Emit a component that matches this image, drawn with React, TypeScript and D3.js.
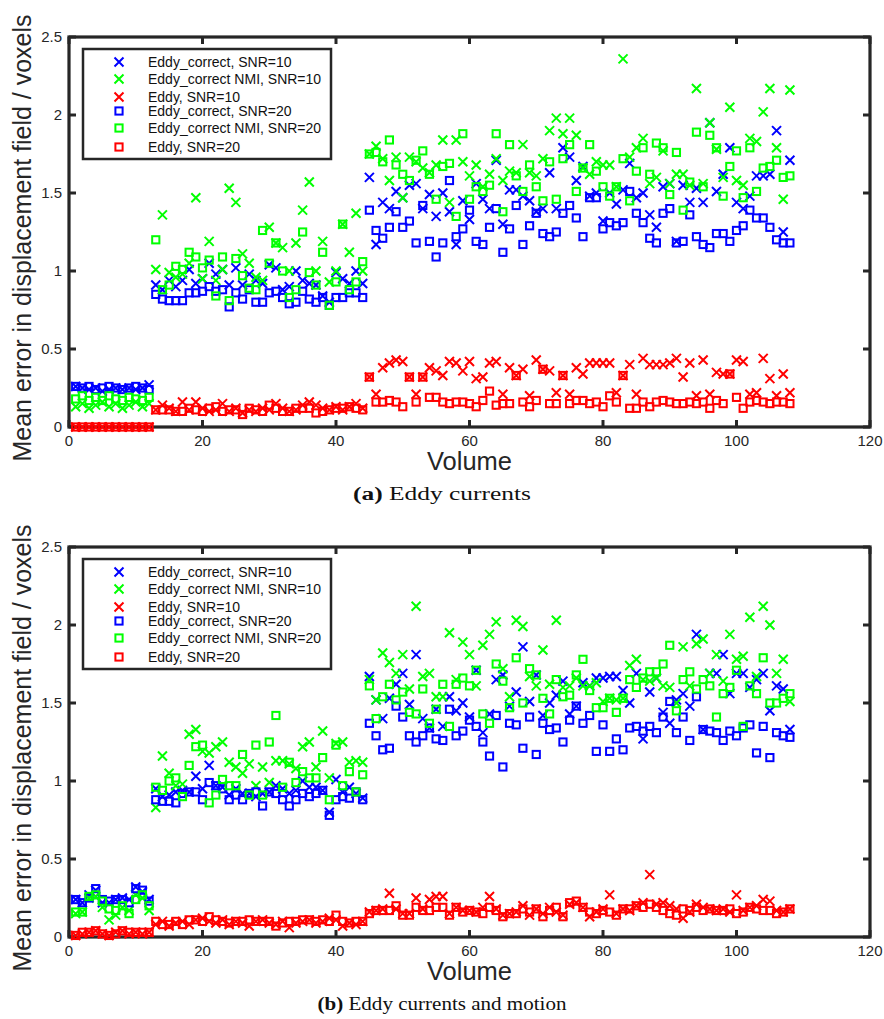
import * as d3 from 'd3'
import React from 'react'

// x positions of the points
const volumes = d3.range(1, 109)
const xTicks = [0, 20, 40, 60, 80, 100, 120]
const yTicks = [0, 0.5, 1, 1.5, 2, 2.5]

const legendLabels = [
  'Eddy_correct, SNR=10',
  'Eddy_correct NMI, SNR=10',
  'Eddy, SNR=10',
  'Eddy_correct, SNR=20',
  'Eddy_correct NMI, SNR=20',
  'Eddy, SNR=20',
]
const seriesColors = ['#0000ff', '#00ff00', '#ff0000', '#0000ff', '#00ff00', '#ff0000']
const seriesMarkers = ['x', 'x', 'x', 'square', 'square', 'square']

// (a) Eddy currents
const aCorrect10 = [
  0.26, 0.25, 0.24, 0.25, 0.23, 0.24, 0.25, 0.24, 0.25, 0.24, 0.25, 0.27,
  0.91, 0.88, 0.94, 0.90, 0.94, 1.01, 0.92, 0.95, 1.05, 0.98, 1.01, 0.91, 1.02, 0.91, 0.98, 0.94, 0.92, 1.04, 1.02, 0.88, 0.90, 1.00, 0.94, 0.92, 0.91, 0.84, 0.80, 0.99, 0.95, 0.92, 1.00, 0.92,
  1.60, 1.17, 1.44, 1.40, 1.51, 1.47, 1.55, 1.56, 1.40, 1.49, 1.35, 1.50, 1.38, 1.17, 1.45, 1.33, 1.56, 1.46, 1.40, 1.71, 1.30, 1.52, 1.52, 1.48, 1.45, 1.38, 1.40, 1.63, 1.40, 1.79, 1.73, 1.58, 1.67, 1.48, 1.50, 1.32,
  1.50, 1.43, 1.52, 1.69, 1.47, 1.50, 1.36, 1.28, 1.54, 1.56, 1.19, 1.55, 1.44, 1.53, 1.44, 1.95, 1.51, 1.62, 1.79, 1.44, 1.40, 1.48, 1.61, 1.61, 1.62, 1.90, 1.25, 1.71,
]
const aNmi10 = [
  0.13, 0.15, 0.12, 0.14, 0.16, 0.13, 0.15, 0.12, 0.14, 0.16, 0.13, 0.15,
  1.01, 1.36, 0.99, 0.96, 0.98, 1.05, 1.47, 0.95, 1.19, 0.94, 1.01, 1.53, 1.44, 1.11, 1.05, 0.96, 0.94, 1.28, 1.18, 1.15, 1.00, 1.18, 1.39, 1.57, 1.00, 1.19, 0.93, 1.00, 1.30, 1.12, 1.37, 1.00,
  1.75, 1.80, 1.72, 1.58, 1.73, 1.47, 1.73, 1.70, 1.66, 1.63, 1.68, 1.84, 1.44, 1.84, 1.70, 1.61, 1.68, 1.54, 1.62, 1.72, 1.58, 1.64, 1.63, 1.81, 1.63, 1.61, 1.72, 1.90, 1.98, 1.88, 1.98, 1.87, 1.66, 1.62, 1.70, 1.68,
  1.68, 1.54, 2.36, 1.73, 1.79, 1.85, 1.56, 1.60, 1.77, 1.56, 1.62, 1.62, 1.55, 2.17, 1.56, 1.95, 1.78, 1.60, 2.05, 1.58, 1.55, 1.85, 1.83, 2.02, 2.17, 1.79, 1.46, 2.16,
]
const aEddy10 = [
  0, 0, 0, 0, 0, 0, 0, 0, 0, 0, 0, 0,
  0.11, 0.14, 0.12, 0.10, 0.16, 0.11, 0.16, 0.12, 0.10, 0.11, 0.15, 0.10, 0.12, 0.09, 0.11, 0.10, 0.12, 0.11, 0.15, 0.12, 0.10, 0.11, 0.14, 0.16, 0.14, 0.12, 0.11, 0.13, 0.11, 0.13, 0.15, 0.12,
  0.32, 0.21, 0.38, 0.41, 0.43, 0.42, 0.32, 0.21, 0.32, 0.38, 0.36, 0.33, 0.42, 0.41, 0.36, 0.42, 0.31, 0.32, 0.41, 0.42, 0.21, 0.38, 0.33, 0.37, 0.20, 0.43, 0.37, 0.36, 0.22, 0.33, 0.21, 0.38, 0.34, 0.41, 0.41, 0.41,
  0.41, 0.22, 0.33, 0.40, 0.21, 0.44, 0.40, 0.40, 0.40, 0.41, 0.44, 0.32, 0.41, 0.20, 0.43, 0.21, 0.35, 0.34, 0.34, 0.43, 0.42, 0.21, 0.22, 0.44, 0.31, 0.20, 0.34, 0.22,
]
const aCorrect20 = [
  0.26, 0.25, 0.26, 0.24, 0.25, 0.26, 0.25, 0.24, 0.25, 0.26, 0.25, 0.24,
  0.85, 0.82, 0.81, 0.81, 0.81, 0.86, 0.86, 0.87, 0.90, 0.87, 0.88, 0.77, 0.86, 0.82, 0.88, 0.80, 0.80, 0.86, 0.87, 0.83, 0.79, 0.80, 0.87, 0.82, 0.80, 0.83, 0.78, 0.83, 0.83, 0.86, 0.86, 0.83,
  1.39, 1.26, 1.21, 1.28, 1.38, 1.28, 1.32, 1.18, 1.42, 1.19, 1.09, 1.18, 1.58, 1.22, 1.27, 1.39, 1.19, 1.17, 1.28, 1.40, 1.12, 1.27, 1.42, 1.17, 1.29, 1.37, 1.24, 1.22, 1.25, 1.37, 1.42, 1.34, 1.22, 1.47, 1.47, 1.27,
  1.31, 1.29, 1.31, 1.51, 1.37, 1.31, 1.21, 1.18, 1.37, 1.40, 1.18, 1.19, 1.36, 1.22, 1.17, 1.15, 1.24, 1.24, 1.19, 1.26, 1.29, 1.39, 1.34, 1.34, 1.28, 1.20, 1.18, 1.18,
]
const aNmi20 = [
  0.18, 0.20, 0.17, 0.19, 0.17, 0.20, 0.18, 0.17, 0.19, 0.18, 0.17, 0.19,
  1.20, 0.88, 0.91, 1.03, 1.01, 1.12, 1.09, 1.02, 1.07, 0.84, 1.09, 0.81, 1.08, 0.97, 0.89, 0.88, 1.26, 1.05, 1.18, 1.00, 0.83, 0.88, 1.25, 0.99, 0.91, 1.12, 0.78, 0.93, 1.30, 0.88, 0.93, 1.06,
  1.75, 1.76, 1.70, 1.84, 1.68, 1.62, 1.58, 1.71, 1.77, 1.62, 1.46, 1.67, 1.69, 1.35, 1.88, 1.46, 1.54, 1.51, 1.55, 1.88, 1.38, 1.81, 1.61, 1.51, 1.68, 1.54, 1.45, 1.70, 1.46, 1.72, 1.81, 1.51, 1.66, 1.81, 1.64, 1.54,
  1.48, 1.54, 1.72, 1.45, 1.64, 1.79, 1.62, 1.82, 1.79, 1.49, 1.76, 1.39, 1.57, 1.89, 1.54, 1.87, 1.79, 1.48, 1.67, 1.77, 1.47, 1.79, 1.51, 1.66, 1.67, 1.71, 1.60, 1.61,
]
const aEddy20 = [
  0, 0, 0, 0, 0, 0, 0, 0, 0, 0, 0, 0,
  0.11, 0.11, 0.11, 0.10, 0.10, 0.12, 0.11, 0.10, 0.12, 0.13, 0.10, 0.11, 0.11, 0.08, 0.12, 0.11, 0.10, 0.14, 0.12, 0.10, 0.10, 0.12, 0.12, 0.12, 0.09, 0.10, 0.11, 0.12, 0.12, 0.13, 0.12, 0.11,
  0.32, 0.16, 0.16, 0.17, 0.16, 0.13, 0.32, 0.16, 0.32, 0.19, 0.19, 0.16, 0.15, 0.16, 0.16, 0.15, 0.13, 0.17, 0.23, 0.14, 0.15, 0.15, 0.33, 0.16, 0.13, 0.17, 0.37, 0.15, 0.15, 0.33, 0.15, 0.17, 0.17, 0.15, 0.16, 0.13,
  0.20, 0.16, 0.33, 0.12, 0.12, 0.16, 0.13, 0.16, 0.17, 0.16, 0.15, 0.15, 0.16, 0.15, 0.16, 0.12, 0.17, 0.15, 0.34, 0.19, 0.12, 0.16, 0.17, 0.16, 0.15, 0.16, 0.16, 0.15,
]

// (b) Eddy currents and motion
const bCorrect10 = [
  0.24, 0.22, 0.27, 0.30, 0.22, 0.22, 0.24, 0.25, 0.24, 0.32, 0.29, 0.24,
  0.95, 0.90, 0.91, 0.93, 0.94, 0.93, 1.03, 0.95, 1.10, 0.97, 0.96, 0.91, 0.95, 0.92, 0.92, 0.90, 0.92, 0.93, 0.97, 0.95, 0.92, 0.94, 1.00, 0.96, 0.96, 0.94, 0.80, 1.01, 0.93, 0.96, 0.92, 0.89,
  1.67, 1.52, 1.40, 1.53, 1.62, 1.69, 1.49, 1.81, 1.40, 1.34, 1.46, 1.35, 1.54, 1.45, 1.50, 1.41, 1.71, 1.31, 1.43, 1.65, 1.68, 1.48, 1.57, 1.86, 1.51, 1.68, 1.42, 1.50, 1.55, 1.64, 1.43, 1.48, 1.63, 1.61, 1.66, 1.66,
  1.67, 1.67, 1.58, 1.50, 1.69, 1.27, 1.57, 1.66, 1.44, 1.37, 1.52, 1.56, 1.48, 1.94, 1.33, 1.69, 1.69, 1.81, 1.56, 1.69, 1.69, 1.60, 1.65, 1.69, 1.45, 1.61, 1.59, 1.33,
]
const bNmi10 = [
  0.15, 0.16, 0.25, 0.26, 0.19, 0.11, 0.14, 0.19, 0.17, 0.27, 0.25, 0.17,
  0.83, 1.16, 1.05, 0.97, 0.98, 1.30, 1.33, 1.19, 1.18, 1.22, 1.25, 1.12, 1.09, 1.05, 1.11, 0.97, 1.09, 0.99, 1.13, 1.13, 1.11, 1.08, 1.22, 1.25, 1.09, 1.32, 1.02, 1.24, 1.25, 1.12, 1.13, 1.12,
  1.65, 1.52, 1.82, 1.76, 1.69, 1.81, 1.59, 2.12, 1.67, 1.69, 1.54, 1.54, 1.95, 1.65, 1.89, 1.81, 1.61, 1.87, 1.94, 2.02, 1.72, 1.54, 2.03, 1.99, 1.67, 1.61, 1.84, 1.62, 2.03, 1.60, 1.61, 1.66, 1.61, 1.61, 1.63, 1.51,
  1.53, 1.52, 1.53, 1.74, 1.78, 1.65, 1.64, 1.66, 1.61, 1.60, 1.50, 1.86, 1.61, 1.88, 1.91, 1.69, 1.81, 1.64, 1.94, 1.78, 1.80, 2.05, 1.67, 2.12, 2.00, 1.69, 1.78, 1.51,
]
const bEddy10 = [
  0.01, 0.02, 0.03, 0.04, 0.02, 0.01, 0.03, 0.04, 0.02, 0.03, 0.02, 0.03,
  0.08, 0.10, 0.07, 0.09, 0.10, 0.08, 0.11, 0.12, 0.10, 0.09, 0.11, 0.08, 0.10, 0.09, 0.07, 0.10, 0.11, 0.09, 0.08, 0.10, 0.06, 0.09, 0.10, 0.11, 0.09, 0.10, 0.12, 0.11, 0.07, 0.09, 0.08, 0.10,
  0.16, 0.17, 0.18, 0.28, 0.18, 0.15, 0.15, 0.25, 0.18, 0.24, 0.26, 0.26, 0.15, 0.19, 0.17, 0.17, 0.16, 0.19, 0.26, 0.18, 0.14, 0.15, 0.16, 0.20, 0.14, 0.18, 0.15, 0.19, 0.16, 0.14, 0.21, 0.22, 0.19, 0.13, 0.16, 0.18,
  0.27, 0.15, 0.18, 0.17, 0.20, 0.22, 0.40, 0.21, 0.22, 0.20, 0.18, 0.12, 0.16, 0.21, 0.19, 0.18, 0.17, 0.18, 0.16, 0.27, 0.17, 0.19, 0.20, 0.24, 0.23, 0.17, 0.16, 0.18,
]
const bCorrect20 = [
  0.24, 0.22, 0.25, 0.31, 0.24, 0.23, 0.24, 0.24, 0.22, 0.31, 0.30, 0.23,
  0.88, 0.87, 0.87, 0.86, 0.92, 0.93, 0.93, 0.88, 0.99, 0.97, 0.95, 0.88, 0.91, 0.88, 0.92, 0.93, 0.84, 0.93, 0.92, 0.88, 0.84, 0.88, 0.92, 0.90, 0.92, 0.94, 0.78, 0.88, 0.90, 0.89, 0.93, 0.88,
  1.37, 1.29, 1.20, 1.21, 1.48, 1.41, 1.29, 1.25, 1.29, 1.34, 1.27, 1.26, 1.46, 1.29, 1.32, 1.39, 1.35, 1.25, 1.16, 1.42, 1.09, 1.37, 1.36, 1.21, 1.41, 1.17, 1.37, 1.33, 1.34, 1.25, 1.39, 1.48, 1.37, 1.42, 1.19, 1.36,
  1.19, 1.27, 1.20, 1.34, 1.35, 1.32, 1.35, 1.31, 1.41, 1.51, 1.31, 1.41, 1.26, 1.54, 1.33, 1.32, 1.31, 1.26, 1.32, 1.29, 1.34, 1.36, 1.18, 1.35, 1.15, 1.31, 1.29, 1.28,
]
const bNmi20 = [
  0.16, 0.16, 0.26, 0.27, 0.23, 0.18, 0.17, 0.20, 0.15, 0.24, 0.27, 0.20,
  0.96, 0.94, 1.00, 1.02, 0.90, 1.10, 1.22, 1.23, 0.86, 0.91, 1.01, 0.97, 0.97, 1.17, 0.91, 1.23, 0.91, 1.25, 1.42, 0.96, 1.12, 0.99, 1.06, 1.02, 1.02, 1.15, 0.88, 1.23, 0.97, 1.06, 0.93, 1.04,
  1.61, 1.40, 1.54, 1.62, 1.52, 1.57, 1.44, 1.43, 1.59, 1.37, 1.46, 1.62, 1.35, 1.62, 1.66, 1.61, 1.71, 1.43, 1.37, 1.75, 1.64, 1.47, 1.79, 1.50, 1.72, 1.68, 1.53, 1.43, 1.65, 1.54, 1.55, 1.68, 1.78, 1.58, 1.47, 1.47,
  1.53, 1.44, 1.53, 1.65, 1.60, 1.66, 1.70, 1.70, 1.75, 1.87, 1.45, 1.65, 1.70, 1.59, 1.65, 1.61, 1.41, 1.56, 1.60, 1.71, 1.35, 1.61, 1.56, 1.79, 1.50, 1.50, 1.53, 1.56,
]
const bEddy20 = [
  0.01, 0.03, 0.03, 0.04, 0.02, 0.01, 0.02, 0.04, 0.03, 0.03, 0.03, 0.03,
  0.10, 0.08, 0.08, 0.10, 0.08, 0.11, 0.11, 0.10, 0.13, 0.11, 0.10, 0.09, 0.10, 0.10, 0.11, 0.10, 0.10, 0.10, 0.07, 0.09, 0.10, 0.10, 0.11, 0.11, 0.10, 0.11, 0.10, 0.14, 0.10, 0.09, 0.10, 0.10,
  0.15, 0.17, 0.17, 0.17, 0.20, 0.14, 0.14, 0.19, 0.17, 0.17, 0.19, 0.19, 0.14, 0.19, 0.16, 0.17, 0.16, 0.15, 0.19, 0.17, 0.13, 0.15, 0.15, 0.18, 0.16, 0.18, 0.13, 0.17, 0.19, 0.13, 0.22, 0.23, 0.19, 0.16, 0.15, 0.17,
  0.16, 0.14, 0.18, 0.18, 0.20, 0.19, 0.21, 0.19, 0.17, 0.15, 0.14, 0.18, 0.17, 0.19, 0.17, 0.18, 0.17, 0.17, 0.18, 0.15, 0.16, 0.19, 0.18, 0.17, 0.17, 0.15, 0.16, 0.18,
]

const SANS = '"Liberation Sans", Arial, Helvetica, sans-serif'
const SERIF = '"Liberation Serif", "Times New Roman", serif'
const AXIS = '#262626'

// Marker shapes as in the matlab figure
function Marker({ kind, cx, cy, color }) {
  if (kind === 'x') {
    const s = 4.5
    return (
      <path
        d={`M${cx - s},${cy - s}L${cx + s},${cy + s}M${cx + s},${cy - s}L${cx - s},${cy + s}`}
        stroke={color}
        strokeWidth={2}
        fill="none"
      />
    )
  }
  return <rect x={cx - 3.6} y={cy - 3.6} width={7.2} height={7.2} stroke={color} strokeWidth={2} fill="none" />
}

function Panel({ top, series, tag, caption, captionWidth }) {
  const left = 69
  const right = 870
  const bottom = top + 390

  const x = d3.scaleLinear().domain([0, 120]).range([left, right])
  const y = d3.scaleLinear().domain([0, 2.5]).range([bottom, top])

  // legend row offsets from legend box top
  const legendTop = top + 12
  const rowOffsets = [13, 30, 48, 62, 79, 98]

  return (
    <g>
      {/* axes box */}
      <rect x={left} y={top} width={right - left} height={bottom - top} fill="none" stroke={AXIS} strokeWidth={3.2} />
      {xTicks.map(t => (
        <g key={'xt' + t}>
          <line x1={x(t)} x2={x(t)} y1={bottom} y2={bottom - 7} stroke={AXIS} strokeWidth={3} />
          <line x1={x(t)} x2={x(t)} y1={top} y2={top + 7} stroke={AXIS} strokeWidth={3} />
          <text x={x(t)} y={bottom + 19} textAnchor="middle" fontFamily={SANS} fontSize={15} fill={AXIS}>
            {t}
          </text>
        </g>
      ))}
      {yTicks.map(t => (
        <g key={'yt' + t}>
          <line x1={left} x2={left + 7} y1={y(t)} y2={y(t)} stroke={AXIS} strokeWidth={3} />
          <line x1={right} x2={right - 7} y1={y(t)} y2={y(t)} stroke={AXIS} strokeWidth={3} />
          <text x={left - 7} y={y(t) + 5} textAnchor="end" fontFamily={SANS} fontSize={15} fill={AXIS}>
            {String(t)}
          </text>
        </g>
      ))}

      {/* data */}
      {series.map((vals, i) => (
        <g key={'s' + i}>
          {vals.map((v, j) => (
            <Marker key={j} kind={seriesMarkers[i]} cx={x(volumes[j])} cy={y(v)} color={seriesColors[i]} />
          ))}
        </g>
      ))}

      {/* legend */}
      <rect x={83} y={legendTop} width={248} height={110} fill="white" stroke={AXIS} strokeWidth={2.5} />
      {legendLabels.map((label, i) => (
        <g key={'lg' + i}>
          <Marker kind={seriesMarkers[i]} cx={119} cy={legendTop + rowOffsets[i]} color={seriesColors[i]} />
          <text x={148} y={legendTop + rowOffsets[i] + 5} fontFamily={SANS} fontSize={14} fill="#111">
            {label}
          </text>
        </g>
      ))}

      {/* axis labels */}
      <text x={(left + right) / 2} y={bottom + 43} textAnchor="middle" fontFamily={SANS} fontSize={25} fill={AXIS} textLength={85} lengthAdjust="spacingAndGlyphs">
        Volume
      </text>
      <text
        transform={`translate(31, ${top + 201}) rotate(-90)`}
        textAnchor="middle"
        fontFamily={SANS}
        fontSize={25}
        fill={AXIS}
        textLength={447}
        lengthAdjust="spacingAndGlyphs"
      >
        Mean error in displacement field / voxels
      </text>

      {/* caption */}
      <text x={442} y={bottom + 73} textAnchor="middle" fontFamily={SERIF} fontSize={18} fill="#111" textLength={captionWidth} lengthAdjust="spacingAndGlyphs">
        <tspan fontWeight="bold">({tag})</tspan> {caption}
      </text>
    </g>
  )
}

export default function App() {
  const seriesA = [aCorrect10, aNmi10, aEddy10, aCorrect20, aNmi20, aEddy20]
  const seriesB = [bCorrect10, bNmi10, bEddy10, bCorrect20, bNmi20, bEddy20]
  return (
    <svg width={884} height={1019} style={{ position: 'absolute', left: 0, top: 0, background: 'white' }}>
      <rect x={0} y={0} width={884} height={1019} fill="white" />
      <Panel top={37} series={seriesA} tag="a" caption="Eddy currents" captionWidth={178} />
      <Panel top={547} series={seriesB} tag="b" caption="Eddy currents and motion" captionWidth={249} />
    </svg>
  )
}
